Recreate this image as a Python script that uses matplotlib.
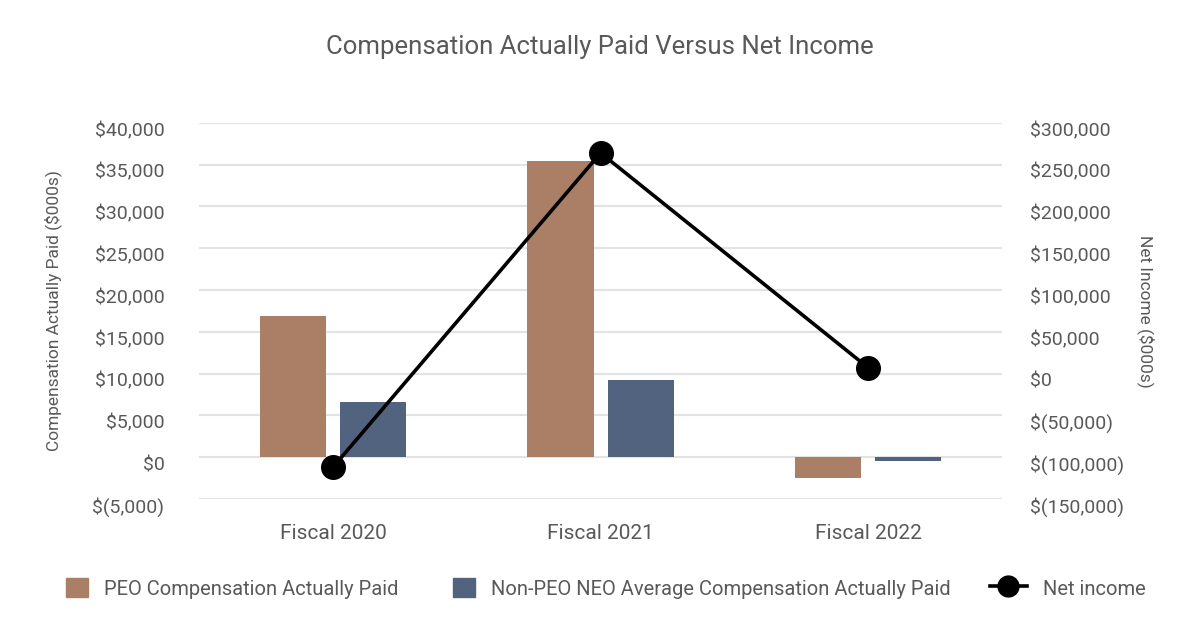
import matplotlib
matplotlib.use("Agg")
import matplotlib.pyplot as plt
import matplotlib.transforms as mtransforms
from matplotlib.lines import Line2D
from matplotlib.patches import Patch
from matplotlib.legend_handler import HandlerLine2D
import numpy as np

# données (en milliers de $)
years = ["Fiscal 2020", "Fiscal 2021", "Fiscal 2022"]
peo_cap = [16950, 35400, -2450]
non_peo_cap = [6650, 9250, -480]
net_income = [-112000, 264000, 7000]

left_ticks = [-5000, 0, 5000, 10000, 15000, 20000, 25000, 30000, 35000, 40000]
right_ticks = [-150000, -100000, -50000, 0, 50000, 100000, 150000, 200000, 250000, 300000]

peo_color = "#AB7E66"
non_peo_color = "#52637F"
text_color = "#595959"
grid_color = "#E3E3E3"

plt.rcParams['font.family'] = ['Roboto', 'DejaVu Sans']


def money(v):
    if v < 0:
        return "$({:,})".format(-v)
    return "${:,}".format(v)


# poignée de légende plus longue pour la ligne
class LongLine(HandlerLine2D):
    def create_artists(self, legend, orig_handle, xdescent, ydescent,
                       width, height, fontsize, trans):
        return super().create_artists(legend, orig_handle, xdescent + width * 0.7,
                                      ydescent, width * 1.7, height, fontsize, trans)


fig = plt.figure(figsize=(12, 6.3), dpi=100)
ax = fig.add_axes([0.166, 0.208, 0.669, 0.597])
ax2 = ax.twinx()

x = np.arange(len(years))
w = 0.247
ax.bar(x - 0.15, peo_cap, w, color=peo_color, zorder=2)
ax.bar(x + 0.15, non_peo_cap, w, color=non_peo_color, zorder=2)

ax2.plot(x, net_income, color="black", lw=2.6, marker="o", ms=17, zorder=3)

ax.set_xlim(-0.5, 2.5)
ax.set_ylim(-5000, 40000)
ax2.set_ylim(-150000, 300000)

ax.set_yticks(left_ticks)
ax.set_yticklabels([money(v) for v in left_ticks])
ax2.set_yticks(right_ticks)
ax2.set_yticklabels([money(v) for v in right_ticks])
ax.set_xticks(x)
ax.set_xticklabels(years)

ax.grid(axis="y", color=grid_color, lw=1.5, zorder=0)
ax.set_axisbelow(True)

for a in (ax, ax2):
    for s in a.spines.values():
        s.set_visible(False)
    a.tick_params(length=0, colors=text_color, labelsize=14)

ax.tick_params(axis="y", pad=25)
ax2.tick_params(axis="y", pad=20)
ax.tick_params(axis="x", labelsize=15, pad=18)

# décalage des étiquettes vers le bas comme dans Excel
off = mtransforms.ScaledTranslation(0, -6 / 100, fig.dpi_scale_trans)
for lab in ax.get_yticklabels() + ax2.get_yticklabels():
    lab.set_transform(lab.get_transform() + off)

ax.set_ylabel("Compensation Actually Paid ($000s)", color=text_color, fontsize=12.5)
ax.yaxis.set_label_coords(-0.171, 0.5)
ax2.set_ylabel("Net Income ($000s)", color=text_color, fontsize=12.5, rotation=270)
ax2.yaxis.set_label_coords(1.19, 0.5)

fig.text(0.5, 0.925, "Compensation Actually Paid Versus Net Income",
         ha="center", va="center", fontsize=18.5, color=text_color)

handles = [
    Patch(color=peo_color),
    Patch(color=non_peo_color),
    Line2D([], [], color="black", lw=2.6, marker="o", ms=15),
]
labels = ["PEO Compensation Actually Paid",
          "Non-PEO NEO Average Compensation Actually Paid",
          "Net income"]
leg = fig.legend(handles, labels, loc="center", bbox_to_anchor=(0.505, 0.066),
                 ncol=3, frameon=False, fontsize=14.5, handlelength=1.1,
                 handleheight=1.1, columnspacing=2.7, handletextpad=0.8,
                 handler_map={Line2D: LongLine()})
for t in leg.get_texts():
    t.set_color(text_color)

fig.savefig("out.png", dpi=100)
